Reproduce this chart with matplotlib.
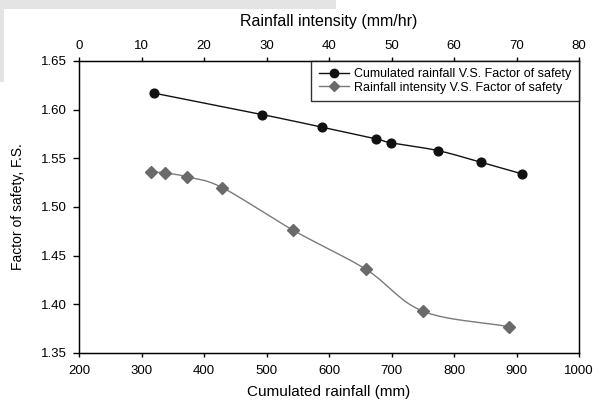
import numpy as np
import matplotlib
matplotlib.use("Agg")
import matplotlib.pyplot as plt
from matplotlib.patches import Rectangle
from matplotlib.lines import Line2D

plt.rcParams['font.family'] = ['Liberation Sans', 'DejaVu Sans']

# Data
cum_rain = [320, 493, 589, 675, 699, 774, 843, 909]
fs_cum = [1.617, 1.595, 1.582, 1.570, 1.566, 1.558, 1.546, 1.534]
intensity = [11.5, 13.8, 17.3, 22.9, 34.3, 45.9, 55.0, 68.8]
fs_int = [1.536, 1.535, 1.531, 1.520, 1.476, 1.436, 1.393, 1.377]

x_ticks = [200, 300, 400, 500, 600, 700, 800, 900, 1000]
top_ticks = [0, 10, 20, 30, 40, 50, 60, 70, 80]
y_ticks = [1.35, 1.40, 1.45, 1.50, 1.55, 1.60, 1.65]

label1 = "Cumulated rainfall V.S. Factor of safety"
label2 = "Rainfall intensity V.S. Factor of safety"


def smooth(x, y, n=20):
    """Cubic Hermite smooth curve through the given points (drawing helper)."""
    x = np.asarray(x, float)
    y = np.asarray(y, float)
    m = len(x)
    tx = np.zeros(m)
    ty = np.zeros(m)
    for i in range(m):
        if i == 0:
            tx[i], ty[i] = x[1] - x[0], y[1] - y[0]
        elif i == m - 1:
            tx[i], ty[i] = x[-1] - x[-2], y[-1] - y[-2]
        else:
            tx[i], ty[i] = (x[i + 1] - x[i - 1]) / 2, (y[i + 1] - y[i - 1]) / 2
    xs, ys = [], []
    t = np.linspace(0, 1, n)
    h00 = 2 * t**3 - 3 * t**2 + 1
    h10 = t**3 - 2 * t**2 + t
    h01 = -2 * t**3 + 3 * t**2
    h11 = t**3 - t**2
    for i in range(m - 1):
        xs.append(h00 * x[i] + h10 * tx[i] + h01 * x[i + 1] + h11 * tx[i + 1])
        ys.append(h00 * y[i] + h10 * ty[i] + h01 * y[i + 1] + h11 * ty[i + 1])
    return np.concatenate(xs), np.concatenate(ys)


fig = plt.figure(figsize=(6.03, 4.0), dpi=100)
fig.patch.set_facecolor('white')
# screenshot grey frame fragment
fig.patches.append(Rectangle((0, 1 - 8.5 / 400), 336 / 603, 8.5 / 400,
                             transform=fig.transFigure, facecolor='#e4e4e4',
                             edgecolor='none', zorder=0))
fig.patches.append(Rectangle((0, 1 - 82 / 400), 3.7 / 603, 82 / 400,
                             transform=fig.transFigure, facecolor='#e4e4e4',
                             edgecolor='none', zorder=0))

ax = fig.add_axes([79 / 603, 1 - 353 / 400, 500 / 603, 292 / 400])
ax.set_xlim(200, 1000)
ax.set_ylim(1.35, 1.65)
ax.set_xticks(x_ticks)
ax.set_yticks(y_ticks)
ax.set_yticklabels([f"{v:.2f}" for v in y_ticks])
ax.tick_params(axis='x', direction='out', length=3, width=1, labelsize=9.5, pad=6,
               top=False)
ax.tick_params(axis='y', direction='out', length=4, width=1, labelsize=9.5, pad=5,
               right=False)
for s in ax.spines.values():
    s.set_linewidth(1.0)

ax2 = ax.twiny()
ax2.set_xlim(0, 80)
ax2.set_xticks(top_ticks)
ax2.tick_params(direction='out', length=3, width=1, labelsize=9.5, pad=3.5)

black = '#111111'
grey = '#6a6a6a'

sx, sy = smooth(cum_rain, fs_cum)
ax.plot(sx, sy, color=black, lw=1.0, zorder=3)
ax.plot(cum_rain, fs_cum, 'o', color=black, ms=6.3, zorder=4)

gx, gy = smooth(intensity, fs_int)
ax2.plot(gx, gy, color='#7a7a7a', lw=1.0, zorder=3)
ax2.plot(intensity, fs_int, 'D', color=grey, ms=6.2, zorder=4)

ax.set_xlabel("Cumulated rainfall (mm)", fontsize=11)
ax.xaxis.set_label_coords(0.5, -0.11)
ax.set_ylabel("Factor of safety, F.S.", fontsize=10)
ax.yaxis.set_label_coords(-0.122, 0.5)
ax.yaxis.label.set_va('center')
ax2.set_xlabel("Rainfall intensity (mm/hr)", fontsize=11.5)
ax2.xaxis.set_label_coords(0.5, 1.12)

handles = [Line2D([], [], color=black, marker='o', ms=6, lw=1.0),
           Line2D([], [], color='#7a7a7a', marker='D', mfc=grey, mec=grey, ms=5.5, lw=1.0)]
leg = ax2.legend(handles, [label1, label2], loc='upper right',
                 bbox_to_anchor=(1.0, 1.0), fontsize=9, frameon=True,
                 fancybox=False, borderaxespad=0, handlelength=2.4,
                 handletextpad=0.45, labelspacing=0.1, borderpad=0.6)
leg.get_frame().set_edgecolor('black')
leg.get_frame().set_linewidth(1.0)

fig.savefig("out.png", dpi=100)
